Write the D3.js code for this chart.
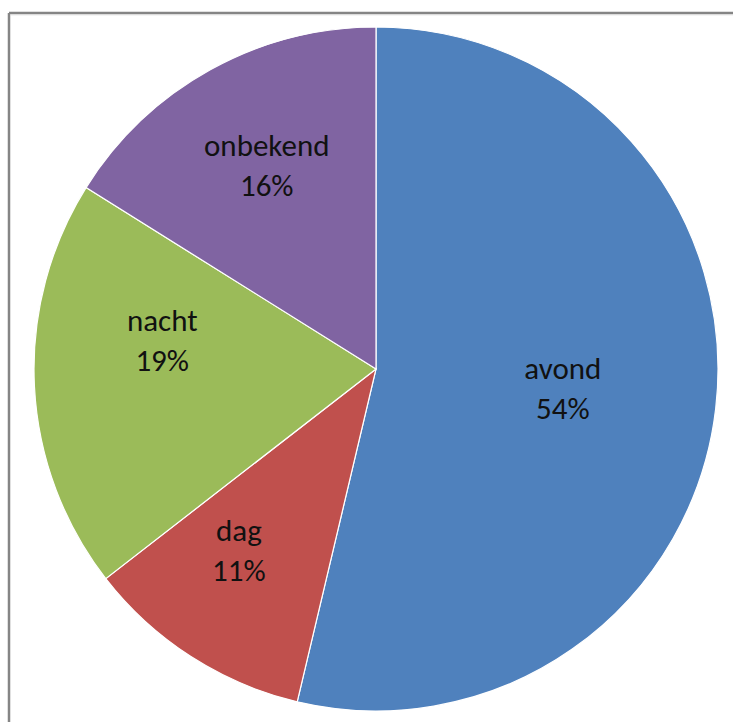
<!DOCTYPE html>
<html>
  <head>
    <meta charset="utf-8" />
    <title>Pie</title>
    <script src="https://cdn.jsdelivr.net/npm/d3@7"></script>
    <style>
      body { margin: 0; background: #fff; }
    </style>
  </head>
  <body>
    <script>
// slice data, clockwise from 12 o'clock
var categories = ["avond", "dag", "nacht", "onbekend"];
var values = [53.7, 10.8, 19.4, 16.1];
var colors = ["#4F81BD", "#C0504D", "#9BBB59", "#8064A2"];

var w = 733, h = 722,
    cx = 376, cy = 369,
    r = 342;

// label placement like Excel's "best fit": radius fraction + angle nudge (deg)
var labelRad = [0.55, 0.67, 0.63, 0.67];
var labelNudge = [0, 4, 10, 0.5];

var svg = d3.select("body").append("svg")
    .attr("width", w)
    .attr("height", h);

// chart frame
svg.append("line").attr("x1", 9).attr("y1", 13).attr("x2", w).attr("y2", 13)
    .attr("stroke", "#858585").attr("stroke-width", 2.5);
svg.append("line").attr("x1", 9).attr("y1", 13).attr("x2", 9).attr("y2", h)
    .attr("stroke", "#858585").attr("stroke-width", 2.5);
svg.append("line").attr("x1", 10.5).attr("y1", 14.8).attr("x2", w).attr("y2", 14.8)
    .attr("stroke", "#d9d9d9").attr("stroke-width", 1);

var pie = d3.pie().sort(null).value(function(d) { return d; });
var arcs = pie(values);
var total = d3.sum(values);

var arc = d3.arc().innerRadius(0).outerRadius(r);

var g = svg.append("g").attr("transform", "translate(" + cx + "," + cy + ")");

g.selectAll("path")
  .data(arcs)
  .enter()
  .append("path")
    .attr("d", arc)
    .attr("fill", function(d, i) { return colors[i]; })
    .attr("stroke", "#fff")
    .attr("stroke-width", 1.2);

var labels = g.selectAll("text")
  .data(arcs)
  .enter()
  .append("text")
    .attr("transform", function(d, i) {
      var lr = r * labelRad[i];
      var a = (d.startAngle + d.endAngle) / 2 + labelNudge[i] * Math.PI / 180;
      return "translate(" + (Math.sin(a) * lr) + "," + (-Math.cos(a) * lr) + ")";
    })
    .attr("text-anchor", "middle")
    .attr("font-family", "Carlito, Lato, 'Open Sans', sans-serif")
    .attr("font-size", 31)
    .attr("fill", "#111");

labels.append("tspan")
    .attr("x", 0)
    .attr("dy", "-0.38em")
    .text(function(d, i) { return categories[i]; });

labels.append("tspan")
    .attr("x", 0)
    .attr("dy", "1.3em")
    .text(function(d) { return Math.round(d.value / total * 100) + "%"; });
    </script>
  </body>
</html>
